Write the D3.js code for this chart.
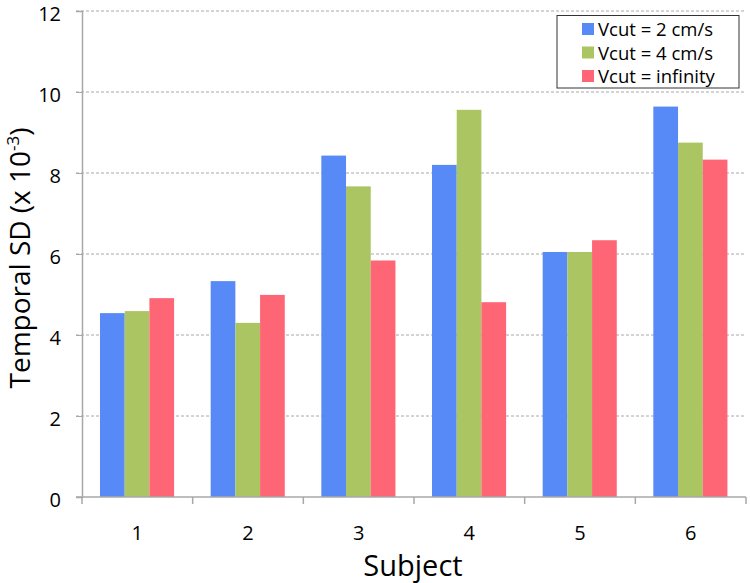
<!DOCTYPE html>
<html><head><meta charset="utf-8">
<script src="https://cdn.jsdelivr.net/npm/d3@7"></script>
<style>body{margin:0;background:#fff}svg{display:block}text{font-family:"Open Sans","Noto Sans",sans-serif}</style>
</head><body><svg id="c" width="750" height="583"></svg>
<script>
const categories = ["1","2","3","4","5","6"];
const seriesNames = ["Vcut = 2 cm/s","Vcut = 4 cm/s","Vcut = infinity"];
const vcut2 = [4.54, 5.33, 8.43, 8.20, 6.05, 9.64];
const vcut4 = [4.59, 4.30, 7.67, 9.56, 6.05, 8.75];
const vcutInf = [4.91, 4.99, 5.84, 4.81, 6.34, 8.33];
const yTicks = [0,2,4,6,8,10,12];
const colors = ["#5789F7","#ABC563","#FE6675"];

const series = [vcut2, vcut4, vcutInf];
const svg = d3.select("#c");
const L = 82, R = 746, T = 11, B = 497;
const x = d3.scaleBand().domain(categories).range([L, R]);
const y = d3.scaleLinear().domain([0,12]).range([B, T]);

// gridlines
svg.append("g").selectAll("line").data(yTicks.filter(d=>d>0)).join("line")
  .attr("x1", L-6).attr("x2", R).attr("y1", d=>y(d)).attr("y2", d=>y(d))
  .attr("stroke","#a8a8a8").attr("stroke-width",1).attr("stroke-dasharray","3,2");

// bars
const gb = svg.append("g");
series.forEach((vals, si) => {
  gb.selectAll(null).data(vals).join("rect")
    .attr("x", (d,i)=> x(categories[i]) + 18 + si*24.7)
    .attr("width", 24.7)
    .attr("y", d=>y(d)).attr("height", d=>B - y(d))
    .attr("fill", colors[si]);
});

// y axis
const yAxis = d3.axisLeft(y).tickValues(yTicks).tickSize(6).tickPadding(15);
const gy = svg.append("g").attr("transform",`translate(${L},0)`).call(yAxis);
gy.select(".domain").attr("stroke","#a8a8a8").attr("stroke-width",1.5);
gy.selectAll(".tick line").attr("stroke","#a8a8a8");
gy.selectAll("text").attr("font-size",20).attr("fill","#000").attr("font-family","Open Sans").attr("dy","0.45em");

// x axis
const xAxis = d3.axisBottom(x).tickSize(0).tickPadding(29);
const gx = svg.append("g").attr("transform",`translate(0,${B})`).call(xAxis);
gx.select(".domain").attr("stroke","#a8a8a8").attr("stroke-width",1.5).attr("d",`M${L-6},0H${R}`);
gx.selectAll("text").attr("font-size",20).attr("fill","#000").attr("font-family","Open Sans");
gx.selectAll(null).data(d3.range(categories.length+1)).join("line")
  .attr("x1", i=>L + i*x.step()).attr("x2", i=>L + i*x.step())
  .attr("y1",0).attr("y2",7).attr("stroke","#a8a8a8").attr("stroke-width",1.5);

// axis titles
svg.append("text").attr("x", 413).attr("y", 576).attr("text-anchor","middle")
  .attr("font-size",29).attr("fill","#000").text("Subject");
const yt = svg.append("text").attr("transform","translate(30,258) rotate(-90)")
  .attr("text-anchor","middle").attr("font-size",28).attr("fill","#000");
yt.append("tspan").text("Temporal SD (x 10");
yt.append("tspan").attr("font-size",17).attr("dy",-11).text("-3");
yt.append("tspan").attr("dy",11).text(")");

// legend
const lg = svg.append("g");
lg.append("rect").attr("x",557).attr("y",15.5).attr("width",182).attr("height",72.5)
  .attr("fill","#fff").attr("stroke","#333").attr("stroke-width",1);
seriesNames.forEach((n,i)=>{
  lg.append("rect").attr("x",582).attr("y",23+i*23.5).attr("width",12).attr("height",12).attr("fill",colors[i]);
  lg.append("text").attr("x",598).attr("y",36+i*23.5).attr("font-size",18.5).attr("fill","#000").text(n);
});
</script></body></html>
